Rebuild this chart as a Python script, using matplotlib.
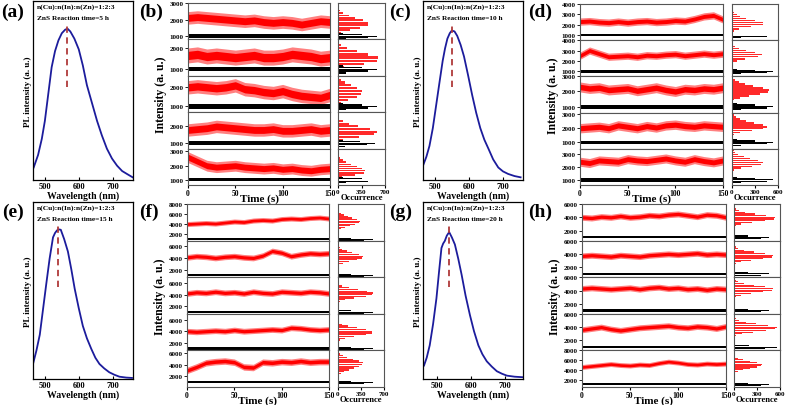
import numpy as np
import matplotlib.pyplot as plt

plt.rcParams['font.family'] = ['Liberation Serif', 'DejaVu Serif']
plt.rcParams['font.weight'] = 'bold'

W, H = 787, 406

# ---------------- PL spectra ----------------
a_wl = [467, 480, 491, 500, 510, 520, 530, 540, 550, 560, 567, 575, 587, 600, 612, 624,
        639, 654, 668, 683, 698, 713, 728, 742, 759]
a_pl = [0.07, 0.14, 0.23, 0.33, 0.48, 0.63, 0.72, 0.78, 0.82, 0.84, 0.845, 0.83, 0.79, 0.73,
        0.64, 0.53, 0.43, 0.33, 0.25, 0.175, 0.12, 0.08, 0.05, 0.034, 0.015]
c_wl = [465, 475, 484, 494, 504, 514, 523, 530, 537, 544, 550, 558, 566, 576, 586, 598, 610,
        622, 634, 646, 658, 672, 687, 701, 716, 735, 753]
c_pl = [0.08, 0.13, 0.19, 0.29, 0.42, 0.55, 0.665, 0.735, 0.79, 0.82, 0.835, 0.83, 0.805,
        0.755, 0.69, 0.585, 0.475, 0.375, 0.29, 0.225, 0.175, 0.115, 0.07, 0.048, 0.034,
        0.022, 0.015]
e_wl = [465, 475, 485, 494, 504, 514, 524, 530, 536, 542, 547, 557, 568, 578, 588, 600, 612,
        624, 637, 649, 661, 675, 690, 705, 720, 740, 757]
e_pl = [0.085, 0.16, 0.25, 0.385, 0.535, 0.68, 0.80, 0.825, 0.84, 0.845, 0.843, 0.79, 0.72,
        0.62, 0.51, 0.40, 0.30, 0.23, 0.17, 0.12, 0.085, 0.06, 0.038, 0.024, 0.013, 0.008, 0.006]
g_wl = [460, 468, 477, 487, 497, 505, 512, 517, 522, 528, 535, 543, 552, 562, 572, 584, 597,
        609, 622, 634, 647, 662, 677, 692, 707, 730, 755]
g_pl = [0.076, 0.12, 0.19, 0.31, 0.455, 0.61, 0.74, 0.765, 0.78, 0.81, 0.83, 0.80, 0.76, 0.68,
        0.59, 0.47, 0.36, 0.27, 0.19, 0.14, 0.10, 0.07, 0.044, 0.03, 0.019, 0.013, 0.01]
peak_nm = [565, 550, 540, 535]
react_h = [5, 10, 15, 20]

# ---------------- blinking traces ----------------
time_s = [0, 10, 20, 30, 40, 50, 60, 70, 80, 90, 100, 110, 120, 130, 140, 150]

b_ylim = [(800, 3000), (700, 2400), (700, 2600), (700, 2750), (650, 3200)]
b_yticks = [[1000, 2000, 3000], [1000, 2000], [1000, 2000], [1000, 2000], [1000, 2000, 3000]]
b_red = [[2100, 2150, 2100, 2050, 2000, 1950, 1900, 1950, 1850, 1800, 1850, 1800, 1700, 1800, 1900, 1850],
         [1650, 1700, 1600, 1650, 1600, 1550, 1600, 1650, 1550, 1550, 1600, 1700, 1650, 1600, 1500, 1550],
         [2000, 2050, 2000, 1950, 2000, 2100, 1900, 1850, 1750, 1700, 1800, 1650, 1550, 1500, 1450, 1600],
         [1750, 1800, 1850, 1950, 1900, 1850, 1800, 1750, 1750, 1800, 1700, 1700, 1750, 1800, 1700, 1750],
         [2600, 2300, 2000, 1900, 1950, 2000, 1900, 1850, 1800, 1850, 1750, 1800, 1700, 1650, 1750, 1800]]
b_red_hw = [380, 350, 350, 350, 380]
b_black = [1000, 1020, 1000, 1000, 1050]
b_red_hist_start = [1200, 1100, 1200, 1200, 1200]
b_red_hist = [[40, 180, 330, 440, 450, 370, 260, 160, 80, 30],
              [90, 380, 580, 600, 450, 280, 130, 40],
              [40, 150, 280, 340, 350, 290, 200, 110, 40],
              [80, 320, 540, 585, 470, 300, 160, 70, 20],
              [60, 250, 380, 400, 360, 280, 190, 120, 70, 35, 15]]
b_black_hist = [[120, 450, 575, 350, 80], [120, 450, 575, 350, 80], [120, 450, 575, 350, 80],
                [110, 430, 550, 330, 80], [120, 450, 575, 350, 80]]

d_ylim = [(500, 4000), (500, 4000), (600, 3000), (550, 3100), (600, 3400)]
d_yticks = [[1000, 2000, 3000, 4000], [1000, 2000, 3000, 4000], [1000, 2000, 3000],
            [1000, 2000, 3000], [1000, 2000, 3000]]
d_red = [[2300, 2350, 2250, 2200, 2300, 2200, 2300, 2350, 2250, 2300, 2400, 2350, 2550, 2800, 2900, 2500],
         [2500, 3000, 2700, 2400, 2450, 2500, 2400, 2550, 2500, 2600, 2650, 2500, 2600, 2700, 2600, 2700],
         [2300, 2200, 2250, 2100, 2150, 2200, 2050, 2150, 2250, 2100, 2000, 2150, 2100, 2200, 2150, 2250],
         [2000, 2050, 2100, 2000, 2200, 2100, 2000, 2150, 2050, 2200, 2250, 2150, 2100, 2200, 2150, 2100],
         [2400, 2300, 2500, 2450, 2400, 2600, 2500, 2450, 2550, 2650, 2500, 2400, 2600, 2450, 2350, 2500]]
d_red_hw = [350, 350, 330, 330, 350]
d_black = [1000, 1000, 1000, 1000, 1000]
d_red_hist_start = [1400, 1800, 1450, 1540, 1750]
d_red_hist_step = [200, 200, 130, 140, 150]
d_red_hist = [[20, 90, 250, 400, 405, 300, 180, 100, 60, 30, 10],
              [15, 60, 170, 340, 395, 300, 180, 90, 40, 15],
              [30, 100, 220, 370, 470, 480, 400, 280, 170, 90, 40, 15],
              [30, 110, 260, 400, 457, 400, 290, 180, 100, 50, 20, 10],
              [30, 120, 260, 380, 405, 340, 240, 150, 80, 40, 20, 10]]
d_black_hist = [[120, 450, 535, 300, 60]] * 5

f_ylim = [(700, 8000), (670, 7000), (700, 7000), (700, 7000), (200, 6400)]
f_yticks = [[2000, 4000, 6000, 8000], [2000, 4000, 6000], [2000, 4000, 6000],
            [2000, 4000, 6000], [2000, 4000, 6000]]
f_red = [[4000, 4100, 4200, 4100, 4300, 4500, 4400, 4700, 4800, 4700, 5000, 5100, 5000, 5200, 5300, 5100],
         [4100, 4300, 4200, 4000, 4200, 4300, 4100, 4000, 4400, 5200, 4900, 4300, 4600, 4800, 4700, 4800],
         [4200, 4400, 4300, 4500, 4300, 4400, 4200, 4500, 4300, 4200, 4500, 4400, 4300, 4500, 4400, 4200],
         [4000, 3900, 4000, 4100, 4000, 4200, 4000, 4100, 4200, 4300, 4200, 4600, 4500, 4300, 4200, 4300],
         [3000, 3600, 4300, 4500, 4600, 4400, 3600, 3500, 4400, 4300, 4500, 4400, 4600, 4400, 4500, 4500]]
f_red_hw = [500, 500, 500, 500, 550]
f_black = [1000, 1000, 1000, 1000, 1000]
f_red_hist_start = [2800, 2800, 2800, 2500, 2200]
f_red_hist = [[10, 40, 100, 180, 260, 315, 330, 290, 220, 150, 90, 45, 20, 5],
              [20, 70, 170, 290, 370, 380, 320, 220, 130, 60, 25, 8],
              [25, 100, 250, 420, 520, 530, 440, 300, 160, 60, 15],
              [25, 100, 250, 420, 510, 520, 430, 290, 150, 60, 15],
              [10, 40, 90, 160, 240, 320, 370, 380, 320, 230, 140, 70, 25, 5]]
f_black_hist = [[400, 525, 200]] * 5

h_ylim = [(500, 6000), (500, 6000), (500, 6000), (500, 6000), (500, 8000)]
h_yticks = [[2000, 4000, 6000], [2000, 4000, 6000], [2000, 4000, 6000],
            [2000, 4000, 6000], [2000, 4000, 6000, 8000]]
h_red = [[4000, 3900, 4100, 4000, 4200, 4000, 4100, 4300, 4200, 4400, 4500, 4300, 4100, 4400, 4300, 4000],
         [3700, 3800, 3700, 3600, 3800, 3700, 3600, 3800, 3900, 4000, 3900, 4000, 4100, 3900, 4000, 3900],
         [4300, 4400, 4300, 4200, 4300, 4400, 4200, 4400, 4500, 4300, 4400, 4200, 4300, 4100, 4300, 4200],
         [3600, 3800, 4000, 3700, 3500, 3700, 3900, 4000, 4100, 4200, 4000, 3900, 4100, 4000, 3800, 4100],
         [4600, 4800, 5000, 5200, 5000, 4900, 5100, 5000, 5400, 5700, 5500, 5200, 5100, 5300, 5200, 5300]]
h_red_hw = [450, 450, 450, 450, 500]
h_black = [1000, 1000, 1000, 1000, 1100]
h_red_hist_start = [2750, 2550, 3050, 2750, 3400]
h_red_hist_step = [250, 250, 250, 250, 300]
h_red_hist = [[20, 90, 230, 400, 520, 535, 420, 270, 140, 60, 20, 5],
              [20, 90, 220, 380, 490, 505, 400, 260, 130, 55, 20, 5],
              [20, 90, 220, 380, 490, 505, 400, 260, 130, 55, 20, 5],
              [25, 100, 250, 420, 540, 557, 440, 290, 150, 60, 20, 5],
              [15, 50, 120, 210, 300, 350, 360, 300, 210, 120, 50, 15]]
h_black_hist = [[350, 450, 180], [350, 450, 180], [350, 450, 180], [400, 557, 200], [350, 450, 180]]


def box(x0, y0, x1, y1):
    return [x0 / W, 1 - y1 / H, (x1 - x0) / W, (y1 - y0) / H]


fig = plt.figure(figsize=(W / 100, H / 100), dpi=100)


def pl_panel(rect, wl, pl, peak, hours, xlim):
    ax = fig.add_axes(box(*rect))
    ax.plot(wl, pl, color='#1c1c9c', lw=1.3)
    ax.plot([peak, peak], [0.52, 0.87], color='#b03a3a', lw=1.3, dashes=(3.5, 2.5))
    ax.set_xlim(*xlim)
    ax.set_ylim(0, 1)
    ax.set_yticks([])
    ax.set_xticks([500, 600, 700])
    ax.tick_params(axis='x', labelsize=6, length=2, pad=1.5, direction='in')
    for s in ax.spines.values():
        s.set_linewidth(0.9)
    ax.set_xlabel('Wavelength (nm)', fontsize=7, fontweight='bold', labelpad=0.5)
    ax.set_ylabel('PL intensity (a. u.)', fontsize=6.5, fontweight='bold', labelpad=1)
    ax.text(0.04, 0.985, 'n(Cu):n(In):n(Zn)=1:2:3', transform=ax.transAxes,
            fontsize=5.3, fontweight='bold', va='top', ha='left')
    ax.text(0.04, 0.92, 'ZnS Reaction time=%d h' % hours, transform=ax.transAxes,
            fontsize=5.3, fontweight='bold', va='top', ha='left')
    return ax


def trace_panel(tx, hx, ys, ylims, yticks, red, red_hw, black, black_hw, rh_start, rh_step, rh,
                bh_start, bh_step, bh, hmax, hticks):
    n = len(ylims)
    edges = [ys[0] + (ys[1] - ys[0]) * i / n for i in range(n + 1)]
    t = np.array(time_s)
    for i in range(n):
        y0, y1 = edges[i], edges[i + 1]
        ax = fig.add_axes(box(tx[0], y0, tx[1], y1))
        r = np.array(red[i])
        ax.fill_between(t, r - red_hw[i], r + red_hw[i], color='#ff8080', lw=0)
        ax.fill_between(t, r - red_hw[i] * 0.55, r + red_hw[i] * 0.55, color='#ff0000', lw=0)
        ax.fill_between(t, black[i] - black_hw, black[i] + black_hw, color='black', lw=0)
        ax.set_xlim(0, 150)
        ax.set_ylim(*ylims[i])
        ax.set_yticks(yticks[i])
        ax.tick_params(axis='y', labelsize=5, length=2, pad=1, width=0.6)
        for s in ax.spines.values():
            s.set_color('#555555')
            s.set_linewidth(0.8)
        hax = fig.add_axes(box(hx[0], y0, hx[1], y1))
        rc = [rh_start[i] + k * rh_step[i] for k in range(len(rh[i]))]
        hax.barh(rc, rh[i], height=rh_step[i] * 0.72, color='#ff2a2a', lw=0)
        bc = [bh_start + k * bh_step for k in range(len(bh[i]))]
        hax.barh(bc, bh[i], height=bh_step * 0.85, color='black', lw=0)
        hax.set_xlim(0, hmax)
        hax.set_ylim(*ylims[i])
        hax.set_yticks([])
        for s in hax.spines.values():
            s.set_color('#555555')
            s.set_linewidth(0.8)
        if i < n - 1:
            ax.set_xticks([])
            hax.set_xticks([])
        else:
            ax.set_xticks([0, 50, 100, 150])
            ax.tick_params(axis='x', labelsize=5.5, length=2, pad=1)
            ax.set_xlabel('Time (s)', fontsize=8, fontweight='bold', labelpad=-3)
            hax.set_xticks(hticks)
            hax.tick_params(axis='x', labelsize=5, length=2, pad=1)
            hax.set_xlabel('Occurrence', fontsize=6.2, fontweight='bold', labelpad=-1)
        if i == 2:
            ax.set_ylabel('Intensity (a. u.)', fontsize=8.5, fontweight='bold', labelpad=2)


pl_panel((33, 2, 133, 181), a_wl, a_pl, peak_nm[0], react_h[0], (465, 760))
pl_panel((423, 2, 523, 181), c_wl, c_pl, peak_nm[1], react_h[1], (465, 760))
pl_panel((33, 203, 133, 380), e_wl, e_pl, peak_nm[2], react_h[2], (465, 760))
pl_panel((423, 203, 523, 380), g_wl, g_pl, peak_nm[3], react_h[3], (457, 755))

trace_panel((188, 330), (338, 385), (4, 186), b_ylim, b_yticks, b_red, b_red_hw, b_black, 110,
            b_red_hist_start, [150] * 5, b_red_hist, 840, 80, b_black_hist, 700, [0, 350, 700])
trace_panel((580, 723), (732, 778), (5, 186), d_ylim, d_yticks, d_red, d_red_hw, d_black, 130,
            d_red_hist_start, d_red_hist_step, d_red_hist, 800, 100, d_black_hist, 600, [0, 300, 600])
trace_panel((187, 329), (338, 384), (205, 388), f_ylim, f_yticks, f_red, f_red_hw, f_black, 200,
            f_red_hist_start, [300] * 5, f_red_hist, 800, 200, f_black_hist, 700, [0, 350, 700])
trace_panel((582, 726), (734, 780), (205, 388), h_ylim, h_yticks, h_red, h_red_hw, h_black, 160,
            h_red_hist_start, h_red_hist_step, h_red_hist, 800, 200, h_black_hist, 600, [0, 300, 600])

labels = ['(a)', '(b)', '(c)', '(d)', '(e)', '(f)', '(g)', '(h)']
lab_xy = [(13, 12), (151, 12), (400, 12), (540, 12), (13, 212), (149, 212), (401, 212), (540, 212)]
for lab, (x, y) in zip(labels, lab_xy):
    fig.text(x / W, 1 - y / H, lab, fontsize=14, fontweight='bold', ha='center', va='center')

fig.savefig('out.png', dpi=100)
